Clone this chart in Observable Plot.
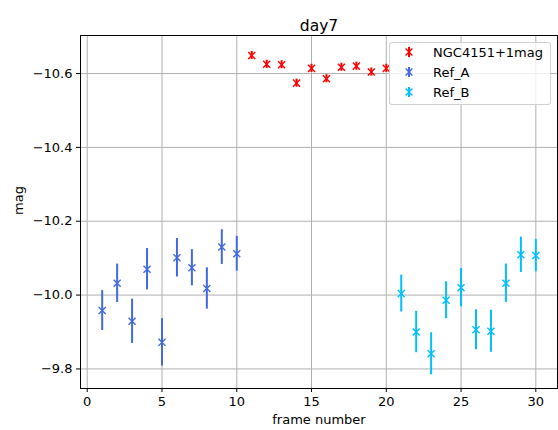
<!DOCTYPE html>
<html>
<head>
<meta charset="utf-8">
<script src="https://cdn.jsdelivr.net/npm/d3@7"></script>
<script src="https://cdn.jsdelivr.net/npm/@observablehq/plot@0.6"></script>
<style>
  html, body { margin: 0; padding: 0; background: #fff; }
  #wrap { position: relative; width: 558px; height: 430px; font-family: "DejaVu Sans", sans-serif; }
  #legend {
    position: absolute; left: 389px; top: 42px; width: 162px; height: 63px;
    box-sizing: border-box; border: 1px solid rgba(204,204,204,0.9); border-radius: 3px;
    background: rgba(255,255,255,0.8); font-size: 13px; color: #000;
  }
  #legend .row { position: absolute; left: 0; height: 20px; display: flex; align-items: center; }
  #legend svg { margin-left: 13px; margin-right: 18px; }
</style>
</head>
<body>
<div id="wrap"></div>
<script>
// Differential photometry, day 7: magnitude per frame with 1-sigma errors
const ngcFrames = [11, 12, 13, 14, 15, 16, 17, 18, 19, 20];
const ngcMag = [-10.649, -10.625, -10.624, -10.574, -10.614, -10.586, -10.617, -10.620, -10.604, -10.614];
const ngcErr = [0.011, 0.011, 0.011, 0.011, 0.011, 0.011, 0.011, 0.011, 0.011, 0.011];

const refAFrames = [1, 2, 3, 4, 5, 6, 7, 8, 9, 10];
const refAMag = [-9.958, -10.032, -9.929, -10.070, -9.872, -10.101, -10.074, -10.018, -10.130, -10.112];
const refAErr = [0.054, 0.052, 0.060, 0.056, 0.064, 0.052, 0.049, 0.056, 0.047, 0.047];

const refBFrames = [21, 22, 23, 24, 25, 26, 27, 28, 29, 30];
const refBMag = [-10.004, -9.900, -9.841, -9.986, -10.020, -9.906, -9.902, -10.032, -10.109, -10.107];
const refBErr = [0.050, 0.056, 0.057, 0.050, 0.052, 0.054, 0.057, 0.052, 0.048, 0.044];

const seriesNames = ["NGC4151+1mag", "Ref_A", "Ref_B"];
const seriesColors = ["red", "royalblue", "deepskyblue"];

const xTicks = [0, 5, 10, 15, 20, 25, 30];
const yTicks = [-10.6, -10.4, -10.2, -10.0, -9.8];

function rows(frames, mags, errs, name) {
  return frames.map((f, i) => ({frame: f, mag: mags[i], err: errs[i], series: name}));
}
const data = [
  ...rows(ngcFrames, ngcMag, ngcErr, seriesNames[0]),
  ...rows(refAFrames, refAMag, refAErr, seriesNames[1]),
  ...rows(refBFrames, refBMag, refBErr, seriesNames[2])
];

const gridColor = "#b0b0b0";

const chart = Plot.plot({
  width: 558,
  height: 430,
  marginLeft: 80,
  marginRight: 1,
  marginTop: 35,
  marginBottom: 42,
  style: {fontFamily: "DejaVu Sans, sans-serif", fontSize: "13px", background: "white", color: "black"},
  x: {domain: [-0.45, 31.45]},
  y: {domain: [-10.703, -9.747], reverse: true},
  color: {domain: seriesNames, range: seriesColors},
  marks: [
    Plot.gridX(xTicks, {stroke: gridColor, strokeOpacity: 1, strokeWidth: 1}),
    Plot.gridY(yTicks, {stroke: gridColor, strokeOpacity: 1, strokeWidth: 1}),
    Plot.axisX(xTicks, {tickSize: 4, tickPadding: 4, label: null, tickFormat: d => d3.format("d")(d)}),
    Plot.axisY(yTicks, {tickSize: 4, tickPadding: 4, label: null, tickFormat: d3.format(".1f")}),
    Plot.ruleX(data, {x: "frame", y1: d => d.mag - d.err, y2: d => d.mag + d.err, stroke: "series", strokeWidth: 2}),
    Plot.dot(data, {x: "frame", y: "mag", stroke: "series", symbol: "times", r: 3.3, strokeWidth: 1.4}),
    Plot.frame({stroke: "black", strokeWidth: 1}),
    Plot.text(["day7"], {frameAnchor: "top", dy: -16, fontSize: 15.5}),
    Plot.text(["frame number"], {frameAnchor: "bottom", dy: 35, fontSize: 13}),
    Plot.text(["mag"], {frameAnchor: "left", dx: -62, dy: 3, rotate: -90, fontSize: 13})
  ]
});

const wrap = document.getElementById("wrap");
wrap.appendChild(chart);

// Legend: error-bar marker and series name for each series
const legend = document.createElement("div");
legend.id = "legend";
seriesNames.forEach((name, i) => {
  const row = document.createElement("div");
  row.className = "row";
  row.style.top = (-1 + i * 20) + "px";
  const c = seriesColors[i];
  row.innerHTML =
    `<svg width="12" height="14" viewBox="-6 -7 12 14">` +
    `<line x1="0" y1="-5" x2="0" y2="5" stroke="${c}" stroke-width="2"/>` +
    `<path d="M-3.4,-3.4L3.4,3.4M-3.4,3.4L3.4,-3.4" stroke="${c}" stroke-width="1.4" fill="none"/>` +
    `</svg><span>${name}</span>`;
  legend.appendChild(row);
});
wrap.appendChild(legend);
</script>
</body>
</html>
